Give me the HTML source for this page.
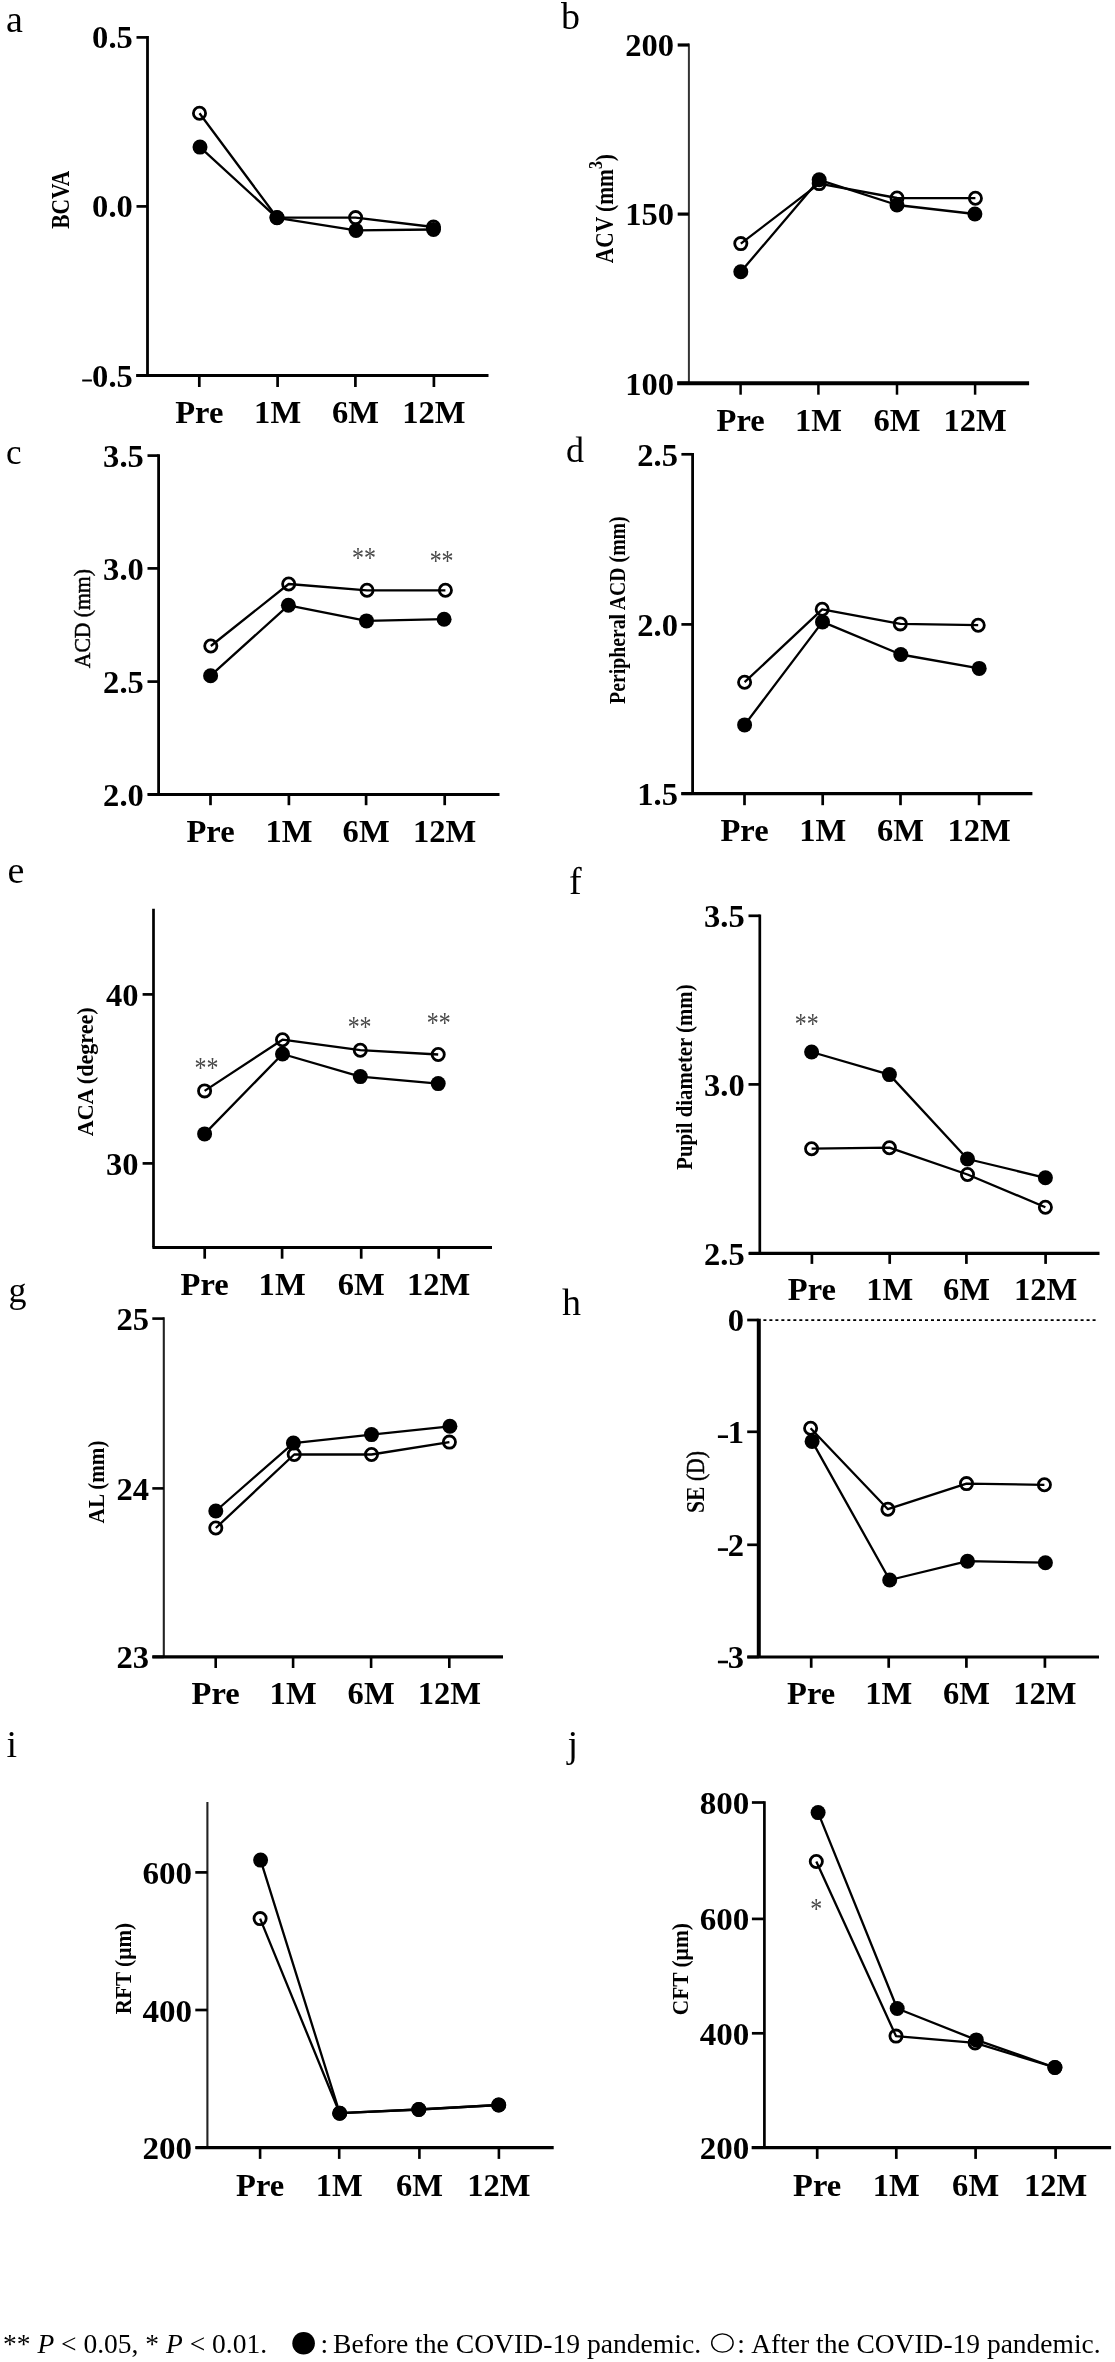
<!DOCTYPE html>
<html><head><meta charset="utf-8"><style>
html,body{margin:0;padding:0;background:#fff;}
svg{display:block;filter:grayscale(1);}
</style></head><body>
<svg width="1115" height="2362" viewBox="0 0 1115 2362">
<rect width="1115" height="2362" fill="#fff"/>
<text x="6" y="32" font-size="38" font-family='"Liberation Serif", serif'>a</text>
<line x1="147.5" y1="36.05" x2="147.5" y2="375.6" stroke="#000" stroke-width="2.8"/>
<line x1="136.2" y1="375.6" x2="488.5" y2="375.6" stroke="#000" stroke-width="3.0"/>
<line x1="136.5" y1="37.4" x2="147.5" y2="37.4" stroke="#000" stroke-width="2.7"/>
<text transform="translate(132.8,48.4) scale(1.05,1)" font-size="31" font-weight="bold" text-anchor="end" font-family='"Liberation Serif", serif'>0.5</text>
<line x1="136.5" y1="206.4" x2="147.5" y2="206.4" stroke="#000" stroke-width="2.7"/>
<text transform="translate(132.8,217.4) scale(1.05,1)" font-size="31" font-weight="bold" text-anchor="end" font-family='"Liberation Serif", serif'>0.0</text>
<line x1="136.5" y1="375.6" x2="147.5" y2="375.6" stroke="#000" stroke-width="2.7"/>
<text transform="translate(132.8,386.6) scale(1.05,1)" font-size="31" font-weight="bold" text-anchor="end" font-family='"Liberation Serif", serif'>0.5</text>
<line x1="82.2" y1="380.5" x2="91.9" y2="380.5" stroke="#000" stroke-width="2.0"/>
<line x1="199.3" y1="375.6" x2="199.3" y2="387" stroke="#000" stroke-width="2.7"/>
<text transform="translate(199.3,423) scale(1.05,1)" font-size="31" font-weight="bold" text-anchor="middle" font-family='"Liberation Serif", serif'>Pre</text>
<line x1="277.6" y1="375.6" x2="277.6" y2="387" stroke="#000" stroke-width="2.7"/>
<text transform="translate(277.6,423) scale(1.05,1)" font-size="31" font-weight="bold" text-anchor="middle" font-family='"Liberation Serif", serif'>1M</text>
<line x1="355.4" y1="375.6" x2="355.4" y2="387" stroke="#000" stroke-width="2.7"/>
<text transform="translate(355.4,423) scale(1.05,1)" font-size="31" font-weight="bold" text-anchor="middle" font-family='"Liberation Serif", serif'>6M</text>
<line x1="433.9" y1="375.6" x2="433.9" y2="387" stroke="#000" stroke-width="2.7"/>
<text transform="translate(433.9,423) scale(1.05,1)" font-size="31" font-weight="bold" text-anchor="middle" font-family='"Liberation Serif", serif'>12M</text>
<text transform="translate(69.3,228.8) rotate(-90) scale(0.8672,1)" font-size="24.8" font-weight="bold" font-family='"Liberation Serif", serif'>BCVA</text>
<polyline points="199.5,113.3 277,217.5 355.6,217.6 433.5,227" fill="none" stroke="#000" stroke-width="2.3" stroke-linejoin="round"/>
<polyline points="200,147.1 277,217.8 356,230.4 433.5,229.5" fill="none" stroke="#000" stroke-width="2.3" stroke-linejoin="round"/>
<circle cx="200" cy="147.1" r="7.5" fill="#000"/>
<circle cx="277" cy="217.8" r="7.5" fill="#000"/>
<circle cx="356" cy="230.4" r="7.5" fill="#000"/>
<circle cx="433.5" cy="229.5" r="7.5" fill="#000"/>
<circle cx="199.5" cy="113.3" r="6.1" fill="none" stroke="#000" stroke-width="2.8"/>
<circle cx="277" cy="217.5" r="6.1" fill="none" stroke="#000" stroke-width="2.8"/>
<circle cx="355.6" cy="217.6" r="6.1" fill="none" stroke="#000" stroke-width="2.8"/>
<circle cx="433.5" cy="227" r="6.1" fill="none" stroke="#000" stroke-width="2.8"/>
<text x="561" y="29" font-size="38" font-family='"Liberation Serif", serif'>b</text>
<line x1="688.9" y1="43.4" x2="688.9" y2="383.3" stroke="#333" stroke-width="2.0"/>
<line x1="677.2" y1="383.3" x2="1029.1" y2="383.3" stroke="#000" stroke-width="4.0"/>
<line x1="677.7" y1="45" x2="688.9" y2="45" stroke="#000" stroke-width="3.2"/>
<text transform="translate(674,56.2) scale(1.05,1)" font-size="31" font-weight="bold" text-anchor="end" font-family='"Liberation Serif", serif'>200</text>
<line x1="677.7" y1="214.1" x2="688.9" y2="214.1" stroke="#000" stroke-width="3.2"/>
<text transform="translate(674,225.3) scale(1.05,1)" font-size="31" font-weight="bold" text-anchor="end" font-family='"Liberation Serif", serif'>150</text>
<line x1="677.7" y1="383.3" x2="688.9" y2="383.3" stroke="#000" stroke-width="3.2"/>
<text transform="translate(674,394.5) scale(1.05,1)" font-size="31" font-weight="bold" text-anchor="end" font-family='"Liberation Serif", serif'>100</text>
<line x1="740.6" y1="383.3" x2="740.6" y2="394.7" stroke="#000" stroke-width="2.5"/>
<text transform="translate(740.6,431.2) scale(1.05,1)" font-size="31" font-weight="bold" text-anchor="middle" font-family='"Liberation Serif", serif'>Pre</text>
<line x1="818.4" y1="383.3" x2="818.4" y2="394.7" stroke="#000" stroke-width="2.5"/>
<text transform="translate(818.4,431.2) scale(1.05,1)" font-size="31" font-weight="bold" text-anchor="middle" font-family='"Liberation Serif", serif'>1M</text>
<line x1="897" y1="383.3" x2="897" y2="394.7" stroke="#000" stroke-width="2.5"/>
<text transform="translate(897,431.2) scale(1.05,1)" font-size="31" font-weight="bold" text-anchor="middle" font-family='"Liberation Serif", serif'>6M</text>
<line x1="975.1" y1="383.3" x2="975.1" y2="394.7" stroke="#000" stroke-width="2.5"/>
<text transform="translate(975.1,431.2) scale(1.05,1)" font-size="31" font-weight="bold" text-anchor="middle" font-family='"Liberation Serif", serif'>12M</text>
<text transform="translate(613,263.3) rotate(-90) scale(0.8603,1)" font-size="24.9" font-weight="bold" font-family='"Liberation Serif", serif'>ACV (mm<tspan dy="-11" font-size="18.5">3</tspan><tspan dy="11">)</tspan></text>
<polyline points="740.8,243.6 819.2,183.6 897,198 975.4,198.2" fill="none" stroke="#000" stroke-width="2.3" stroke-linejoin="round"/>
<polyline points="740.8,271.8 819.2,179.8 897,205 974.9,214" fill="none" stroke="#000" stroke-width="2.3" stroke-linejoin="round"/>
<circle cx="740.8" cy="271.8" r="7.5" fill="#000"/>
<circle cx="819.2" cy="179.8" r="7.5" fill="#000"/>
<circle cx="897" cy="205" r="7.5" fill="#000"/>
<circle cx="974.9" cy="214" r="7.5" fill="#000"/>
<circle cx="740.8" cy="243.6" r="6.1" fill="none" stroke="#000" stroke-width="2.8"/>
<circle cx="819.2" cy="183.6" r="6.1" fill="none" stroke="#000" stroke-width="2.8"/>
<circle cx="897" cy="198" r="6.1" fill="none" stroke="#000" stroke-width="2.8"/>
<circle cx="975.4" cy="198.2" r="6.1" fill="none" stroke="#000" stroke-width="2.8"/>
<text x="6" y="464" font-size="35" font-family='"Liberation Serif", serif'>c</text>
<line x1="158.6" y1="454.25" x2="158.6" y2="794.4" stroke="#000" stroke-width="2.8"/>
<line x1="147.8" y1="794.4" x2="499.5" y2="794.4" stroke="#000" stroke-width="3.0"/>
<line x1="147.5" y1="455.6" x2="158.6" y2="455.6" stroke="#000" stroke-width="2.7"/>
<text transform="translate(143.8,466.8) scale(1.05,1)" font-size="31" font-weight="bold" text-anchor="end" font-family='"Liberation Serif", serif'>3.5</text>
<line x1="147.5" y1="568.4" x2="158.6" y2="568.4" stroke="#000" stroke-width="2.7"/>
<text transform="translate(143.8,579.6) scale(1.05,1)" font-size="31" font-weight="bold" text-anchor="end" font-family='"Liberation Serif", serif'>3.0</text>
<line x1="147.5" y1="681.6" x2="158.6" y2="681.6" stroke="#000" stroke-width="2.7"/>
<text transform="translate(143.8,692.8) scale(1.05,1)" font-size="31" font-weight="bold" text-anchor="end" font-family='"Liberation Serif", serif'>2.5</text>
<line x1="147.5" y1="794.4" x2="158.6" y2="794.4" stroke="#000" stroke-width="2.7"/>
<text transform="translate(143.8,805.6) scale(1.05,1)" font-size="31" font-weight="bold" text-anchor="end" font-family='"Liberation Serif", serif'>2.0</text>
<line x1="210.5" y1="794.4" x2="210.5" y2="805.2" stroke="#000" stroke-width="2.7"/>
<text transform="translate(210.5,841.7) scale(1.05,1)" font-size="31" font-weight="bold" text-anchor="middle" font-family='"Liberation Serif", serif'>Pre</text>
<line x1="288.9" y1="794.4" x2="288.9" y2="805.2" stroke="#000" stroke-width="2.7"/>
<text transform="translate(288.9,841.7) scale(1.05,1)" font-size="31" font-weight="bold" text-anchor="middle" font-family='"Liberation Serif", serif'>1M</text>
<line x1="366.1" y1="794.4" x2="366.1" y2="805.2" stroke="#000" stroke-width="2.7"/>
<text transform="translate(366.1,841.7) scale(1.05,1)" font-size="31" font-weight="bold" text-anchor="middle" font-family='"Liberation Serif", serif'>6M</text>
<line x1="444.7" y1="794.4" x2="444.7" y2="805.2" stroke="#000" stroke-width="2.7"/>
<text transform="translate(444.7,841.7) scale(1.05,1)" font-size="31" font-weight="bold" text-anchor="middle" font-family='"Liberation Serif", serif'>12M</text>
<text transform="translate(89.6,668.2) rotate(-90) scale(0.9009,1)" font-size="24" font-weight="normal" font-family='"Liberation Serif", serif' stroke="#000" stroke-width="0.45">ACD (mm)</text>
<polyline points="210.8,646 288.7,584 367,590.3 445.4,590.3" fill="none" stroke="#000" stroke-width="2.3" stroke-linejoin="round"/>
<polyline points="210.6,675.7 288.4,605.3 366.5,620.9 444.1,619.2" fill="none" stroke="#000" stroke-width="2.3" stroke-linejoin="round"/>
<circle cx="210.6" cy="675.7" r="7.5" fill="#000"/>
<circle cx="288.4" cy="605.3" r="7.5" fill="#000"/>
<circle cx="366.5" cy="620.9" r="7.5" fill="#000"/>
<circle cx="444.1" cy="619.2" r="7.5" fill="#000"/>
<circle cx="210.8" cy="646" r="6.1" fill="none" stroke="#000" stroke-width="2.8"/>
<circle cx="288.7" cy="584" r="6.1" fill="none" stroke="#000" stroke-width="2.8"/>
<circle cx="367" cy="590.3" r="6.1" fill="none" stroke="#000" stroke-width="2.8"/>
<circle cx="445.4" cy="590.3" r="6.1" fill="none" stroke="#000" stroke-width="2.8"/>
<text transform="translate(364,567.2) scale(0.92,1.12)" font-size="26" fill="#4a4a4a" text-anchor="middle" font-family='"Liberation Serif", serif'>**</text>
<text transform="translate(441.6,569.7) scale(0.92,1.12)" font-size="26" fill="#4a4a4a" text-anchor="middle" font-family='"Liberation Serif", serif'>**</text>
<text x="566" y="461.7" font-size="36" font-family='"Liberation Serif", serif'>d</text>
<line x1="692.6" y1="452.95" x2="692.6" y2="793.7" stroke="#000" stroke-width="2.8"/>
<line x1="681.3" y1="793.7" x2="1032.4" y2="793.7" stroke="#000" stroke-width="3.2"/>
<line x1="681.4" y1="454.3" x2="692.6" y2="454.3" stroke="#000" stroke-width="2.7"/>
<text transform="translate(678,465.8) scale(1.05,1)" font-size="31" font-weight="bold" text-anchor="end" font-family='"Liberation Serif", serif'>2.5</text>
<line x1="681.4" y1="624.4" x2="692.6" y2="624.4" stroke="#000" stroke-width="2.7"/>
<text transform="translate(678,635.9) scale(1.05,1)" font-size="31" font-weight="bold" text-anchor="end" font-family='"Liberation Serif", serif'>2.0</text>
<line x1="681.4" y1="793.7" x2="692.6" y2="793.7" stroke="#000" stroke-width="2.7"/>
<text transform="translate(678,805.2) scale(1.05,1)" font-size="31" font-weight="bold" text-anchor="end" font-family='"Liberation Serif", serif'>1.5</text>
<line x1="744.5" y1="793.7" x2="744.5" y2="805.2" stroke="#000" stroke-width="2.7"/>
<text transform="translate(744.5,840.7) scale(1.05,1)" font-size="31" font-weight="bold" text-anchor="middle" font-family='"Liberation Serif", serif'>Pre</text>
<line x1="822.7" y1="793.7" x2="822.7" y2="805.2" stroke="#000" stroke-width="2.7"/>
<text transform="translate(822.7,840.7) scale(1.05,1)" font-size="31" font-weight="bold" text-anchor="middle" font-family='"Liberation Serif", serif'>1M</text>
<line x1="900.5" y1="793.7" x2="900.5" y2="805.2" stroke="#000" stroke-width="2.7"/>
<text transform="translate(900.5,840.7) scale(1.05,1)" font-size="31" font-weight="bold" text-anchor="middle" font-family='"Liberation Serif", serif'>6M</text>
<line x1="979.1" y1="793.7" x2="979.1" y2="805.2" stroke="#000" stroke-width="2.7"/>
<text transform="translate(979.1,840.7) scale(1.05,1)" font-size="31" font-weight="bold" text-anchor="middle" font-family='"Liberation Serif", serif'>12M</text>
<text transform="translate(625.2,703.9) rotate(-90) scale(0.8229,1)" font-size="24" font-weight="bold" font-family='"Liberation Serif", serif'>Peripheral ACD (mm)</text>
<polyline points="744.6,682.2 822.2,609.3 900.3,623.9 978.2,625.2" fill="none" stroke="#000" stroke-width="2.3" stroke-linejoin="round"/>
<polyline points="744.6,724.9 822.5,621.9 900.8,654.5 979.2,668.4" fill="none" stroke="#000" stroke-width="2.3" stroke-linejoin="round"/>
<circle cx="744.6" cy="724.9" r="7.5" fill="#000"/>
<circle cx="822.5" cy="621.9" r="7.5" fill="#000"/>
<circle cx="900.8" cy="654.5" r="7.5" fill="#000"/>
<circle cx="979.2" cy="668.4" r="7.5" fill="#000"/>
<circle cx="744.6" cy="682.2" r="6.1" fill="none" stroke="#000" stroke-width="2.8"/>
<circle cx="822.2" cy="609.3" r="6.1" fill="none" stroke="#000" stroke-width="2.8"/>
<circle cx="900.3" cy="623.9" r="6.1" fill="none" stroke="#000" stroke-width="2.8"/>
<circle cx="978.2" cy="625.2" r="6.1" fill="none" stroke="#000" stroke-width="2.8"/>
<text x="7.5" y="883" font-size="38" font-family='"Liberation Serif", serif'>e</text>
<line x1="153.5" y1="908.8" x2="153.5" y2="1247.5" stroke="#000" stroke-width="2.7"/>
<line x1="152.4" y1="1247.5" x2="492" y2="1247.5" stroke="#000" stroke-width="2.8"/>
<line x1="142.6" y1="994.4" x2="153.5" y2="994.4" stroke="#000" stroke-width="2.7"/>
<text transform="translate(138.5,1005.6) scale(1.05,1)" font-size="31" font-weight="bold" text-anchor="end" font-family='"Liberation Serif", serif'>40</text>
<line x1="142.6" y1="1163.4" x2="153.5" y2="1163.4" stroke="#000" stroke-width="2.7"/>
<text transform="translate(138.5,1174.6) scale(1.05,1)" font-size="31" font-weight="bold" text-anchor="end" font-family='"Liberation Serif", serif'>30</text>
<line x1="204.7" y1="1247.5" x2="204.7" y2="1258.7" stroke="#000" stroke-width="2.7"/>
<text transform="translate(204.7,1294.6) scale(1.05,1)" font-size="31" font-weight="bold" text-anchor="middle" font-family='"Liberation Serif", serif'>Pre</text>
<line x1="282.1" y1="1247.5" x2="282.1" y2="1258.7" stroke="#000" stroke-width="2.7"/>
<text transform="translate(282.1,1294.6) scale(1.05,1)" font-size="31" font-weight="bold" text-anchor="middle" font-family='"Liberation Serif", serif'>1M</text>
<line x1="361.2" y1="1247.5" x2="361.2" y2="1258.7" stroke="#000" stroke-width="2.7"/>
<text transform="translate(361.2,1294.6) scale(1.05,1)" font-size="31" font-weight="bold" text-anchor="middle" font-family='"Liberation Serif", serif'>6M</text>
<line x1="438.7" y1="1247.5" x2="438.7" y2="1258.7" stroke="#000" stroke-width="2.7"/>
<text transform="translate(438.7,1294.6) scale(1.05,1)" font-size="31" font-weight="bold" text-anchor="middle" font-family='"Liberation Serif", serif'>12M</text>
<text transform="translate(93.3,1136.3) rotate(-90) scale(0.9201,1)" font-size="24" font-weight="bold" font-family='"Liberation Serif", serif'>ACA (degree)</text>
<polyline points="204.6,1090.9 282.5,1039.7 360.3,1050.2 438.2,1054.5" fill="none" stroke="#000" stroke-width="2.3" stroke-linejoin="round"/>
<polyline points="204.6,1133.9 282.5,1054 360.3,1076.6 438.2,1083.6" fill="none" stroke="#000" stroke-width="2.3" stroke-linejoin="round"/>
<circle cx="204.6" cy="1133.9" r="7.5" fill="#000"/>
<circle cx="282.5" cy="1054" r="7.5" fill="#000"/>
<circle cx="360.3" cy="1076.6" r="7.5" fill="#000"/>
<circle cx="438.2" cy="1083.6" r="7.5" fill="#000"/>
<circle cx="204.6" cy="1090.9" r="6.1" fill="none" stroke="#000" stroke-width="2.8"/>
<circle cx="282.5" cy="1039.7" r="6.1" fill="none" stroke="#000" stroke-width="2.8"/>
<circle cx="360.3" cy="1050.2" r="6.1" fill="none" stroke="#000" stroke-width="2.8"/>
<circle cx="438.2" cy="1054.5" r="6.1" fill="none" stroke="#000" stroke-width="2.8"/>
<text transform="translate(206.4,1076.6) scale(0.92,1.12)" font-size="26" fill="#4a4a4a" text-anchor="middle" font-family='"Liberation Serif", serif'>**</text>
<text transform="translate(359.6,1036.4) scale(0.92,1.12)" font-size="26" fill="#4a4a4a" text-anchor="middle" font-family='"Liberation Serif", serif'>**</text>
<text transform="translate(438.7,1032.1) scale(0.92,1.12)" font-size="26" fill="#4a4a4a" text-anchor="middle" font-family='"Liberation Serif", serif'>**</text>
<text x="569" y="893.9" font-size="38" font-family='"Liberation Serif", serif'>f</text>
<line x1="759.8" y1="914.45" x2="759.8" y2="1253.4" stroke="#000" stroke-width="2.7"/>
<line x1="748.9" y1="1253.4" x2="1099.5" y2="1253.4" stroke="#000" stroke-width="3.4"/>
<line x1="748.5" y1="915.8" x2="759.8" y2="915.8" stroke="#000" stroke-width="2.7"/>
<text transform="translate(744.7,927.1) scale(1.05,1)" font-size="31" font-weight="bold" text-anchor="end" font-family='"Liberation Serif", serif'>3.5</text>
<line x1="748.5" y1="1084.4" x2="759.8" y2="1084.4" stroke="#000" stroke-width="2.7"/>
<text transform="translate(744.7,1095.7) scale(1.05,1)" font-size="31" font-weight="bold" text-anchor="end" font-family='"Liberation Serif", serif'>3.0</text>
<line x1="748.5" y1="1253.4" x2="759.8" y2="1253.4" stroke="#000" stroke-width="2.7"/>
<text transform="translate(744.7,1264.7) scale(1.05,1)" font-size="31" font-weight="bold" text-anchor="end" font-family='"Liberation Serif", serif'>2.5</text>
<line x1="811.9" y1="1253.4" x2="811.9" y2="1263.9" stroke="#000" stroke-width="2.7"/>
<text transform="translate(811.9,1300.2) scale(1.05,1)" font-size="31" font-weight="bold" text-anchor="middle" font-family='"Liberation Serif", serif'>Pre</text>
<line x1="889.7" y1="1253.4" x2="889.7" y2="1263.9" stroke="#000" stroke-width="2.7"/>
<text transform="translate(889.7,1300.2) scale(1.05,1)" font-size="31" font-weight="bold" text-anchor="middle" font-family='"Liberation Serif", serif'>1M</text>
<line x1="966.4" y1="1253.4" x2="966.4" y2="1263.9" stroke="#000" stroke-width="2.7"/>
<text transform="translate(966.4,1300.2) scale(1.05,1)" font-size="31" font-weight="bold" text-anchor="middle" font-family='"Liberation Serif", serif'>6M</text>
<line x1="1045.6" y1="1253.4" x2="1045.6" y2="1263.9" stroke="#000" stroke-width="2.7"/>
<text transform="translate(1045.6,1300.2) scale(1.05,1)" font-size="31" font-weight="bold" text-anchor="middle" font-family='"Liberation Serif", serif'>12M</text>
<text transform="translate(691.9,1169.8) rotate(-90) scale(0.8657,1)" font-size="24" font-weight="bold" font-family='"Liberation Serif", serif'>Pupil diameter (mm)</text>
<polyline points="811.6,1148.7 889.4,1147.7 967.5,1174.5 1045.4,1207.2" fill="none" stroke="#000" stroke-width="2.3" stroke-linejoin="round"/>
<polyline points="811.6,1052 889.4,1074.6 967.5,1159 1045.4,1177.8" fill="none" stroke="#000" stroke-width="2.3" stroke-linejoin="round"/>
<circle cx="811.6" cy="1052" r="7.5" fill="#000"/>
<circle cx="889.4" cy="1074.6" r="7.5" fill="#000"/>
<circle cx="967.5" cy="1159" r="7.5" fill="#000"/>
<circle cx="1045.4" cy="1177.8" r="7.5" fill="#000"/>
<circle cx="811.6" cy="1148.7" r="6.1" fill="none" stroke="#000" stroke-width="2.8"/>
<circle cx="889.4" cy="1147.7" r="6.1" fill="none" stroke="#000" stroke-width="2.8"/>
<circle cx="967.5" cy="1174.5" r="6.1" fill="none" stroke="#000" stroke-width="2.8"/>
<circle cx="1045.4" cy="1207.2" r="6.1" fill="none" stroke="#000" stroke-width="2.8"/>
<text transform="translate(806.8,1032.9) scale(0.92,1.12)" font-size="26" fill="#4a4a4a" text-anchor="middle" font-family='"Liberation Serif", serif'>**</text>
<text x="8.5" y="1302" font-size="36" font-family='"Liberation Serif", serif'>g</text>
<line x1="163.8" y1="1317.3" x2="163.8" y2="1656.9" stroke="#222" stroke-width="2.1"/>
<line x1="152.4" y1="1656.9" x2="503" y2="1656.9" stroke="#000" stroke-width="3.1"/>
<line x1="152.3" y1="1318.6" x2="163.8" y2="1318.6" stroke="#000" stroke-width="2.6"/>
<text transform="translate(149.1,1329.8) scale(1.05,1)" font-size="31" font-weight="bold" text-anchor="end" font-family='"Liberation Serif", serif'>25</text>
<line x1="152.3" y1="1488.4" x2="163.8" y2="1488.4" stroke="#000" stroke-width="2.6"/>
<text transform="translate(149.1,1499.6) scale(1.05,1)" font-size="31" font-weight="bold" text-anchor="end" font-family='"Liberation Serif", serif'>24</text>
<line x1="152.3" y1="1656.9" x2="163.8" y2="1656.9" stroke="#000" stroke-width="2.6"/>
<text transform="translate(149.1,1668.1) scale(1.05,1)" font-size="31" font-weight="bold" text-anchor="end" font-family='"Liberation Serif", serif'>23</text>
<line x1="215.7" y1="1656.9" x2="215.7" y2="1668" stroke="#000" stroke-width="2.6"/>
<text transform="translate(215.7,1703.9) scale(1.05,1)" font-size="31" font-weight="bold" text-anchor="middle" font-family='"Liberation Serif", serif'>Pre</text>
<line x1="293.1" y1="1656.9" x2="293.1" y2="1668" stroke="#000" stroke-width="2.6"/>
<text transform="translate(293.1,1703.9) scale(1.05,1)" font-size="31" font-weight="bold" text-anchor="middle" font-family='"Liberation Serif", serif'>1M</text>
<line x1="371.1" y1="1656.9" x2="371.1" y2="1668" stroke="#000" stroke-width="2.6"/>
<text transform="translate(371.1,1703.9) scale(1.05,1)" font-size="31" font-weight="bold" text-anchor="middle" font-family='"Liberation Serif", serif'>6M</text>
<line x1="449.3" y1="1656.9" x2="449.3" y2="1668" stroke="#000" stroke-width="2.6"/>
<text transform="translate(449.3,1703.9) scale(1.05,1)" font-size="31" font-weight="bold" text-anchor="middle" font-family='"Liberation Serif", serif'>12M</text>
<text transform="translate(104.2,1523.4) rotate(-90) scale(0.8828,1)" font-size="24" font-weight="bold" font-family='"Liberation Serif", serif'>AL (mm)</text>
<polyline points="215.8,1528 294.2,1454.5 371.5,1454.5 449.4,1442.1" fill="none" stroke="#000" stroke-width="2.3" stroke-linejoin="round"/>
<polyline points="215.8,1511 293.4,1443.1 371.5,1434.6 449.9,1426.3" fill="none" stroke="#000" stroke-width="2.3" stroke-linejoin="round"/>
<circle cx="215.8" cy="1511" r="7.5" fill="#000"/>
<circle cx="293.4" cy="1443.1" r="7.5" fill="#000"/>
<circle cx="371.5" cy="1434.6" r="7.5" fill="#000"/>
<circle cx="449.9" cy="1426.3" r="7.5" fill="#000"/>
<circle cx="215.8" cy="1528" r="6.1" fill="none" stroke="#000" stroke-width="2.8"/>
<circle cx="294.2" cy="1454.5" r="6.1" fill="none" stroke="#000" stroke-width="2.8"/>
<circle cx="371.5" cy="1454.5" r="6.1" fill="none" stroke="#000" stroke-width="2.8"/>
<circle cx="449.4" cy="1442.1" r="6.1" fill="none" stroke="#000" stroke-width="2.8"/>
<text x="562" y="1315" font-size="38" font-family='"Liberation Serif", serif'>h</text>
<line x1="758.8" y1="1318.65" x2="758.8" y2="1657" stroke="#000" stroke-width="4.0"/>
<line x1="747.4" y1="1657" x2="1099" y2="1657" stroke="#000" stroke-width="3.2"/>
<line x1="747.2" y1="1320" x2="758.8" y2="1320" stroke="#000" stroke-width="2.7"/>
<text transform="translate(744,1331) scale(1.05,1)" font-size="31" font-weight="bold" text-anchor="end" font-family='"Liberation Serif", serif'>0</text>
<line x1="747.2" y1="1431.8" x2="758.8" y2="1431.8" stroke="#000" stroke-width="2.7"/>
<text transform="translate(744,1442.8) scale(1.05,1)" font-size="31" font-weight="bold" text-anchor="end" font-family='"Liberation Serif", serif'>1</text>
<line x1="747.2" y1="1544.8" x2="758.8" y2="1544.8" stroke="#000" stroke-width="2.7"/>
<text transform="translate(744,1555.8) scale(1.05,1)" font-size="31" font-weight="bold" text-anchor="end" font-family='"Liberation Serif", serif'>2</text>
<line x1="747.2" y1="1657" x2="758.8" y2="1657" stroke="#000" stroke-width="2.7"/>
<text transform="translate(744,1668) scale(1.05,1)" font-size="31" font-weight="bold" text-anchor="end" font-family='"Liberation Serif", serif'>3</text>
<line x1="717.9" y1="1436.7" x2="728" y2="1436.7" stroke="#000" stroke-width="2.6"/>
<line x1="717.9" y1="1549.6" x2="728" y2="1549.6" stroke="#000" stroke-width="2.6"/>
<line x1="717.9" y1="1662" x2="728" y2="1662" stroke="#000" stroke-width="2.6"/>
<line x1="811.2" y1="1657" x2="811.2" y2="1667.8" stroke="#000" stroke-width="2.7"/>
<text transform="translate(811.2,1703.7) scale(1.05,1)" font-size="31" font-weight="bold" text-anchor="middle" font-family='"Liberation Serif", serif'>Pre</text>
<line x1="888.7" y1="1657" x2="888.7" y2="1667.8" stroke="#000" stroke-width="2.7"/>
<text transform="translate(888.7,1703.7) scale(1.05,1)" font-size="31" font-weight="bold" text-anchor="middle" font-family='"Liberation Serif", serif'>1M</text>
<line x1="966.4" y1="1657" x2="966.4" y2="1667.8" stroke="#000" stroke-width="2.7"/>
<text transform="translate(966.4,1703.7) scale(1.05,1)" font-size="31" font-weight="bold" text-anchor="middle" font-family='"Liberation Serif", serif'>6M</text>
<line x1="1044.9" y1="1657" x2="1044.9" y2="1667.8" stroke="#000" stroke-width="2.7"/>
<text transform="translate(1044.9,1703.7) scale(1.05,1)" font-size="31" font-weight="bold" text-anchor="middle" font-family='"Liberation Serif", serif'>12M</text>
<line x1="763.4" y1="1320.1" x2="1096.2" y2="1320.1" stroke="#000" stroke-width="1.9" stroke-dasharray="3 2.985"/>
<text transform="translate(703.9,1512.98) rotate(-90) scale(0.8841,1)" font-size="24.5" font-weight="bold" font-family='"Liberation Serif", serif'>SE <tspan font-weight="normal" stroke="#000" stroke-width="0.45">(D)</tspan></text>
<polyline points="810.6,1428.3 887.9,1509.2 966.5,1483.6 1044.4,1484.8" fill="none" stroke="#000" stroke-width="2.3" stroke-linejoin="round"/>
<polyline points="812.1,1441.4 889.7,1580 967.5,1561.2 1045.4,1562.7" fill="none" stroke="#000" stroke-width="2.3" stroke-linejoin="round"/>
<circle cx="812.1" cy="1441.4" r="7.5" fill="#000"/>
<circle cx="889.7" cy="1580" r="7.5" fill="#000"/>
<circle cx="967.5" cy="1561.2" r="7.5" fill="#000"/>
<circle cx="1045.4" cy="1562.7" r="7.5" fill="#000"/>
<circle cx="810.6" cy="1428.3" r="6.1" fill="none" stroke="#000" stroke-width="2.8"/>
<circle cx="887.9" cy="1509.2" r="6.1" fill="none" stroke="#000" stroke-width="2.8"/>
<circle cx="966.5" cy="1483.6" r="6.1" fill="none" stroke="#000" stroke-width="2.8"/>
<circle cx="1044.4" cy="1484.8" r="6.1" fill="none" stroke="#000" stroke-width="2.8"/>
<text x="6.5" y="1757" font-size="38" font-family='"Liberation Serif", serif'>i</text>
<line x1="207.4" y1="1802.1" x2="207.4" y2="2147.6" stroke="#222" stroke-width="2.1"/>
<line x1="195.6" y1="2147.6" x2="553.7" y2="2147.6" stroke="#000" stroke-width="3.1"/>
<line x1="195.3" y1="1872.4" x2="207.4" y2="1872.4" stroke="#000" stroke-width="2.7"/>
<text transform="translate(192,1883.9) scale(1.05,1)" font-size="31.5" font-weight="bold" text-anchor="end" font-family='"Liberation Serif", serif'>600</text>
<line x1="195.3" y1="2010" x2="207.4" y2="2010" stroke="#000" stroke-width="2.7"/>
<text transform="translate(192,2021.5) scale(1.05,1)" font-size="31.5" font-weight="bold" text-anchor="end" font-family='"Liberation Serif", serif'>400</text>
<line x1="195.3" y1="2147.6" x2="207.4" y2="2147.6" stroke="#000" stroke-width="2.7"/>
<text transform="translate(192,2159.1) scale(1.05,1)" font-size="31.5" font-weight="bold" text-anchor="end" font-family='"Liberation Serif", serif'>200</text>
<line x1="260.1" y1="2147.6" x2="260.1" y2="2158.9" stroke="#000" stroke-width="2.6"/>
<text transform="translate(260.1,2195.5) scale(1.05,1)" font-size="31" font-weight="bold" text-anchor="middle" font-family='"Liberation Serif", serif'>Pre</text>
<line x1="339.2" y1="2147.6" x2="339.2" y2="2158.9" stroke="#000" stroke-width="2.6"/>
<text transform="translate(339.2,2195.5) scale(1.05,1)" font-size="31" font-weight="bold" text-anchor="middle" font-family='"Liberation Serif", serif'>1M</text>
<line x1="419.4" y1="2147.6" x2="419.4" y2="2158.9" stroke="#000" stroke-width="2.6"/>
<text transform="translate(419.4,2195.5) scale(1.05,1)" font-size="31" font-weight="bold" text-anchor="middle" font-family='"Liberation Serif", serif'>6M</text>
<line x1="498.9" y1="2147.6" x2="498.9" y2="2158.9" stroke="#000" stroke-width="2.6"/>
<text transform="translate(498.9,2195.5) scale(1.05,1)" font-size="31" font-weight="bold" text-anchor="middle" font-family='"Liberation Serif", serif'>12M</text>
<text transform="translate(130.7,2014.3) rotate(-90) scale(0.9040,1)" font-size="23.5" font-weight="bold" font-family='"Liberation Serif", serif'>RFT (µm)</text>
<polyline points="260.1,1918.6 339.7,2113.2 418.8,2109.5 498.7,2105" fill="none" stroke="#000" stroke-width="2.3" stroke-linejoin="round"/>
<polyline points="260.6,1860.1 339.7,2113.2 418.8,2109.5 498.7,2105" fill="none" stroke="#000" stroke-width="2.3" stroke-linejoin="round"/>
<circle cx="260.6" cy="1860.1" r="7.5" fill="#000"/>
<circle cx="339.7" cy="2113.2" r="7.5" fill="#000"/>
<circle cx="418.8" cy="2109.5" r="7.5" fill="#000"/>
<circle cx="498.7" cy="2105" r="7.5" fill="#000"/>
<circle cx="260.1" cy="1918.6" r="6.1" fill="none" stroke="#000" stroke-width="2.8"/>
<circle cx="339.7" cy="2113.2" r="6.1" fill="none" stroke="#000" stroke-width="2.8"/>
<circle cx="418.8" cy="2109.5" r="6.1" fill="none" stroke="#000" stroke-width="2.8"/>
<circle cx="498.7" cy="2105" r="6.1" fill="none" stroke="#000" stroke-width="2.8"/>
<text x="567.5" y="1757" font-size="38" font-family='"Liberation Serif", serif'>j</text>
<line x1="764.4" y1="1801.15" x2="764.4" y2="2147.6" stroke="#000" stroke-width="2.7"/>
<line x1="751.7" y1="2147.6" x2="1111.1" y2="2147.6" stroke="#000" stroke-width="3.1"/>
<line x1="751.9" y1="1802.5" x2="764.4" y2="1802.5" stroke="#000" stroke-width="2.7"/>
<text transform="translate(749.3,1814) scale(1.05,1)" font-size="31.5" font-weight="bold" text-anchor="end" font-family='"Liberation Serif", serif'>800</text>
<line x1="751.9" y1="1918.9" x2="764.4" y2="1918.9" stroke="#000" stroke-width="2.7"/>
<text transform="translate(749.3,1930.4) scale(1.05,1)" font-size="31.5" font-weight="bold" text-anchor="end" font-family='"Liberation Serif", serif'>600</text>
<line x1="751.9" y1="2033.3" x2="764.4" y2="2033.3" stroke="#000" stroke-width="2.7"/>
<text transform="translate(749.3,2044.8) scale(1.05,1)" font-size="31.5" font-weight="bold" text-anchor="end" font-family='"Liberation Serif", serif'>400</text>
<line x1="751.9" y1="2147.6" x2="764.4" y2="2147.6" stroke="#000" stroke-width="2.7"/>
<text transform="translate(749.3,2159.1) scale(1.05,1)" font-size="31.5" font-weight="bold" text-anchor="end" font-family='"Liberation Serif", serif'>200</text>
<line x1="817.2" y1="2147.6" x2="817.2" y2="2158.9" stroke="#000" stroke-width="2.7"/>
<text transform="translate(817.2,2195.5) scale(1.05,1)" font-size="31" font-weight="bold" text-anchor="middle" font-family='"Liberation Serif", serif'>Pre</text>
<line x1="896.3" y1="2147.6" x2="896.3" y2="2158.9" stroke="#000" stroke-width="2.7"/>
<text transform="translate(896.3,2195.5) scale(1.05,1)" font-size="31" font-weight="bold" text-anchor="middle" font-family='"Liberation Serif", serif'>1M</text>
<line x1="975.6" y1="2147.6" x2="975.6" y2="2158.9" stroke="#000" stroke-width="2.7"/>
<text transform="translate(975.6,2195.5) scale(1.05,1)" font-size="31" font-weight="bold" text-anchor="middle" font-family='"Liberation Serif", serif'>6M</text>
<line x1="1055.6" y1="2147.6" x2="1055.6" y2="2158.9" stroke="#000" stroke-width="2.7"/>
<text transform="translate(1055.6,2195.5) scale(1.05,1)" font-size="31" font-weight="bold" text-anchor="middle" font-family='"Liberation Serif", serif'>12M</text>
<text transform="translate(688,2015.19) rotate(-90) scale(0.8902,1)" font-size="24" font-weight="bold" font-family='"Liberation Serif", serif'>CFT (µm)</text>
<polyline points="816.3,1861.5 896,2036.1 975.1,2042.9 1054.9,2067.5" fill="none" stroke="#000" stroke-width="2.3" stroke-linejoin="round"/>
<polyline points="818.1,1812.6 897.2,2008.5 976.3,2039.9 1054.9,2067.5" fill="none" stroke="#000" stroke-width="2.3" stroke-linejoin="round"/>
<circle cx="818.1" cy="1812.6" r="7.5" fill="#000"/>
<circle cx="897.2" cy="2008.5" r="7.5" fill="#000"/>
<circle cx="976.3" cy="2039.9" r="7.5" fill="#000"/>
<circle cx="1054.9" cy="2067.5" r="7.5" fill="#000"/>
<circle cx="816.3" cy="1861.5" r="6.1" fill="none" stroke="#000" stroke-width="2.8"/>
<circle cx="896" cy="2036.1" r="6.1" fill="none" stroke="#000" stroke-width="2.8"/>
<circle cx="975.1" cy="2042.9" r="6.1" fill="none" stroke="#000" stroke-width="2.8"/>
<circle cx="1054.9" cy="2067.5" r="6.1" fill="none" stroke="#000" stroke-width="2.8"/>
<text transform="translate(816.3,1917.5) scale(0.92,1.12)" font-size="26" fill="#4a4a4a" text-anchor="middle" font-family='"Liberation Serif", serif'>*</text>
<text x="3" y="2352.5" font-family='"Liberation Serif", serif' font-size='27.5' xml:space="preserve">** <tspan font-style="italic">P</tspan> &lt; 0.05, * <tspan font-style="italic">P</tspan> &lt; 0.01.</text><circle cx="303.6" cy="2343.2" r="11.3" fill="#000"/><text x="320.5" y="2352.5" font-family='"Liberation Serif", serif' font-size='27.5'>:</text><text x="333" y="2352.5" font-family='"Liberation Serif", serif' font-size='27.5' textLength="368.2" lengthAdjust="spacingAndGlyphs">Before the COVID-19 pandemic.</text><ellipse cx="722.4" cy="2343" rx="10.7" ry="9.1" fill="none" stroke="#000" stroke-width="1.4"/><text x="737.2" y="2352.5" font-family='"Liberation Serif", serif' font-size='27.5'>:</text><text x="751.2" y="2352.5" font-family='"Liberation Serif", serif' font-size='27.5' textLength="349.4" lengthAdjust="spacingAndGlyphs">After the COVID-19 pandemic.</text>
</svg>
</body></html>
